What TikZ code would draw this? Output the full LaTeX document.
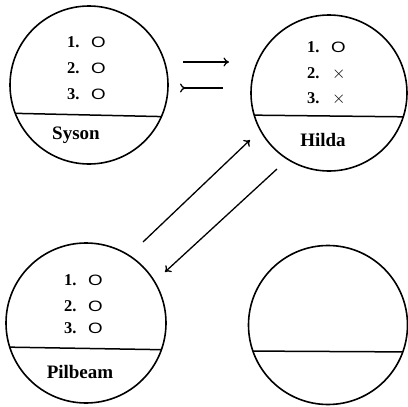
\documentclass[tikz,border=0pt]{standalone}
\usepackage{fontspec}
\usepackage{graphicx}
\setmainfont{Liberation Serif}
\newfontfamily\osans{Liberation Sans}
\usetikzlibrary{arrows.meta}
\newcommand{\wideo}{\scalebox{1.25}[1]{O}}
\tikzset{
  disc/.style={draw, circle, line width=1.6pt, minimum size=#1, inner sep=0pt},
  item/.style={font=\fontsize{16.5}{16.5}\selectfont\bfseries, anchor=base west, inner sep=0pt},
  omark/.style={font=\osans\fontsize{15}{15}\selectfont, anchor=base west, inner sep=0pt},
  xmark/.style={font=\fontsize{19}{19}\selectfont, anchor=base west, inner sep=0pt},
  pname/.style={font=\fontsize{19}{19}\selectfont\bfseries, inner sep=0pt},
  divider/.style={line width=1.5pt},
  link/.style={line width=1.3pt},
  tip/.style={-{To[length=5.5pt,width=9pt]}},
}
\begin{document}
\begin{tikzpicture}[x=1pt,y=-1pt]
\useasboundingbox (0,0) rectangle (408,407);
% circles
\node[disc=158pt] (syson) at (89,85) {};
\node[disc=156pt] (hilda) at (329,93) {};
\node[disc=160pt] (pilbeam) at (86,323) {};
\node[disc=159pt] (blank) at (328,325) {};
\begin{scope}
\clip (syson.center) circle (79pt);
\draw[divider] (0,113) -- (180,117);
\end{scope}
\begin{scope}
\clip (hilda.center) circle (78pt);
\draw[divider] (240,115) -- (420,117);
\end{scope}
\begin{scope}
\clip (pilbeam.center) circle (80pt);
\draw[divider] (0,347) -- (180,350);
\end{scope}
\begin{scope}
\clip (blank.center) circle (79.5pt);
\draw[divider] (240,351) -- (420,352);
\end{scope}
% Syson
\node[item] (s1) at (67,47) {1.};
\node[omark] (s1o) at (91,47) {\wideo};
\node[item] (s2) at (67,73) {2.};
\node[omark] (s2o) at (91,73) {\wideo};
\node[item] (s3) at (67,99) {3.};
\node[omark] (s3o) at (91,99) {\wideo};
\node[pname] (sn) at (76,135) {Syson};
% Hilda
\node[item] (h1) at (307,52) {1.};
\node[omark] (h1o) at (331,52) {\wideo};
\node[item] (h2) at (307,78) {2.};
\node[xmark] (h2o) at (332,78) {$\times$};
\node[item] (h3) at (307,103) {3.};
\node[xmark] (h3o) at (332,103) {$\times$};
\node[pname] (hn) at (323,140) {Hilda};
% Pilbeam
\node[item] (p1) at (64,285) {1.};
\node[omark] (p1o) at (88,285) {\wideo};
\node[item] (p2) at (64,311) {2.};
\node[omark] (p2o) at (88,311) {\wideo};
\node[item] (p3) at (64,333) {3.};
\node[omark] (p3o) at (88,333) {\wideo};
\node[pname] (pn) at (80,372) {Pilbeam};
% arrows
\coordinate (a1s) at (183,62); \coordinate (a1e) at (229,62);
\coordinate (a2s) at (180,88); \coordinate (a2e) at (223,88);
\coordinate (a3s) at (143,242); \coordinate (a3e) at (250,140);
\coordinate (a4s) at (277,169); \coordinate (a4e) at (165,272);
\draw[link,tip] (a1s) -- (a1e);
\draw[link,{To[reversed,length=5.5pt,width=9pt]}-] (a2s) -- (a2e);
\draw[link,tip] (a3s) -- (a3e);
\draw[link,tip] (a4s) -- (a4e);
\end{tikzpicture}
\end{document}
